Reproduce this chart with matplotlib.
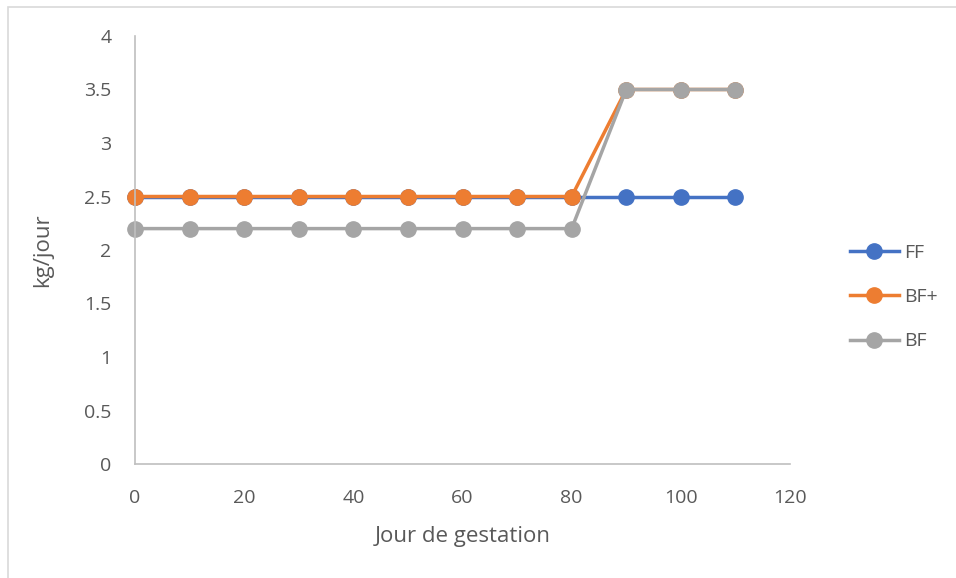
import numpy as np
import matplotlib.pyplot as plt
from matplotlib.patches import Rectangle

# jours de gestation et ration (kg/jour)
jours = [0, 10, 20, 30, 40, 50, 60, 70, 80, 90, 100, 110]
ff = [2.5, 2.5, 2.5, 2.5, 2.5, 2.5, 2.5, 2.5, 2.5, 2.5, 2.5, 2.5]
bf_plus = [2.5, 2.5, 2.5, 2.5, 2.5, 2.5, 2.5, 2.5, 2.5, 3.5, 3.5, 3.5]
bf = [2.2, 2.2, 2.2, 2.2, 2.2, 2.2, 2.2, 2.2, 2.2, 3.5, 3.5, 3.5]

series = [('FF', ff, '#4472C4'), ('BF+', bf_plus, '#ED7D31'), ('BF', bf, '#A5A5A5')]

plt.rcParams['font.family'] = ['Open Sans', 'DejaVu Sans']
txt = '#595959'

fig = plt.figure(figsize=(9.56, 5.78), dpi=100)
# cadre du graphique
fig.patches.append(Rectangle((8 / 956, -0.05), 1.2, 1 - 7 / 578 + 0.05,
                             transform=fig.transFigure, fill=False,
                             edgecolor='#D9D9D9', linewidth=1.2))

ax = fig.add_axes([135 / 956, 1 - 464 / 578, (790 - 135) / 956, (464 - 36) / 578])
for name, vals, col in series:
    ax.plot(jours, vals, color=col, linewidth=2.5, marker='o', markersize=11,
            label=name, clip_on=False)

ax.set_xlim(0, 120)
ax.set_ylim(0, 4)
ax.set_xticks(np.arange(0, 121, 20))
ax.set_yticks(np.arange(0, 4.01, 0.5))
ax.set_yticklabels(['0', '0.5', '1', '1.5', '2', '2.5', '3', '3.5', '4'])
ax.tick_params(length=0, labelsize=14, colors=txt)
ax.tick_params(axis='x', pad=18)
ax.tick_params(axis='y', pad=17)
for s in ['top', 'right']:
    ax.spines[s].set_visible(False)
for s in ['left', 'bottom']:
    ax.spines[s].set_color('#BFBFBF')
    ax.spines[s].set_linewidth(1.2)

ax.set_xlabel('Jour de gestation', fontsize=16, color=txt, labelpad=14)
ax.set_ylabel('kg/jour', fontsize=16, color=txt, labelpad=22)

leg = ax.legend(loc='center left', bbox_to_anchor=(1.065, 0.39), frameon=False,
                fontsize=14, labelspacing=1.35, handlelength=2.5, handletextpad=0.3)
for t in leg.get_texts():
    t.set_color(txt)

fig.savefig('out.png', dpi=100)
